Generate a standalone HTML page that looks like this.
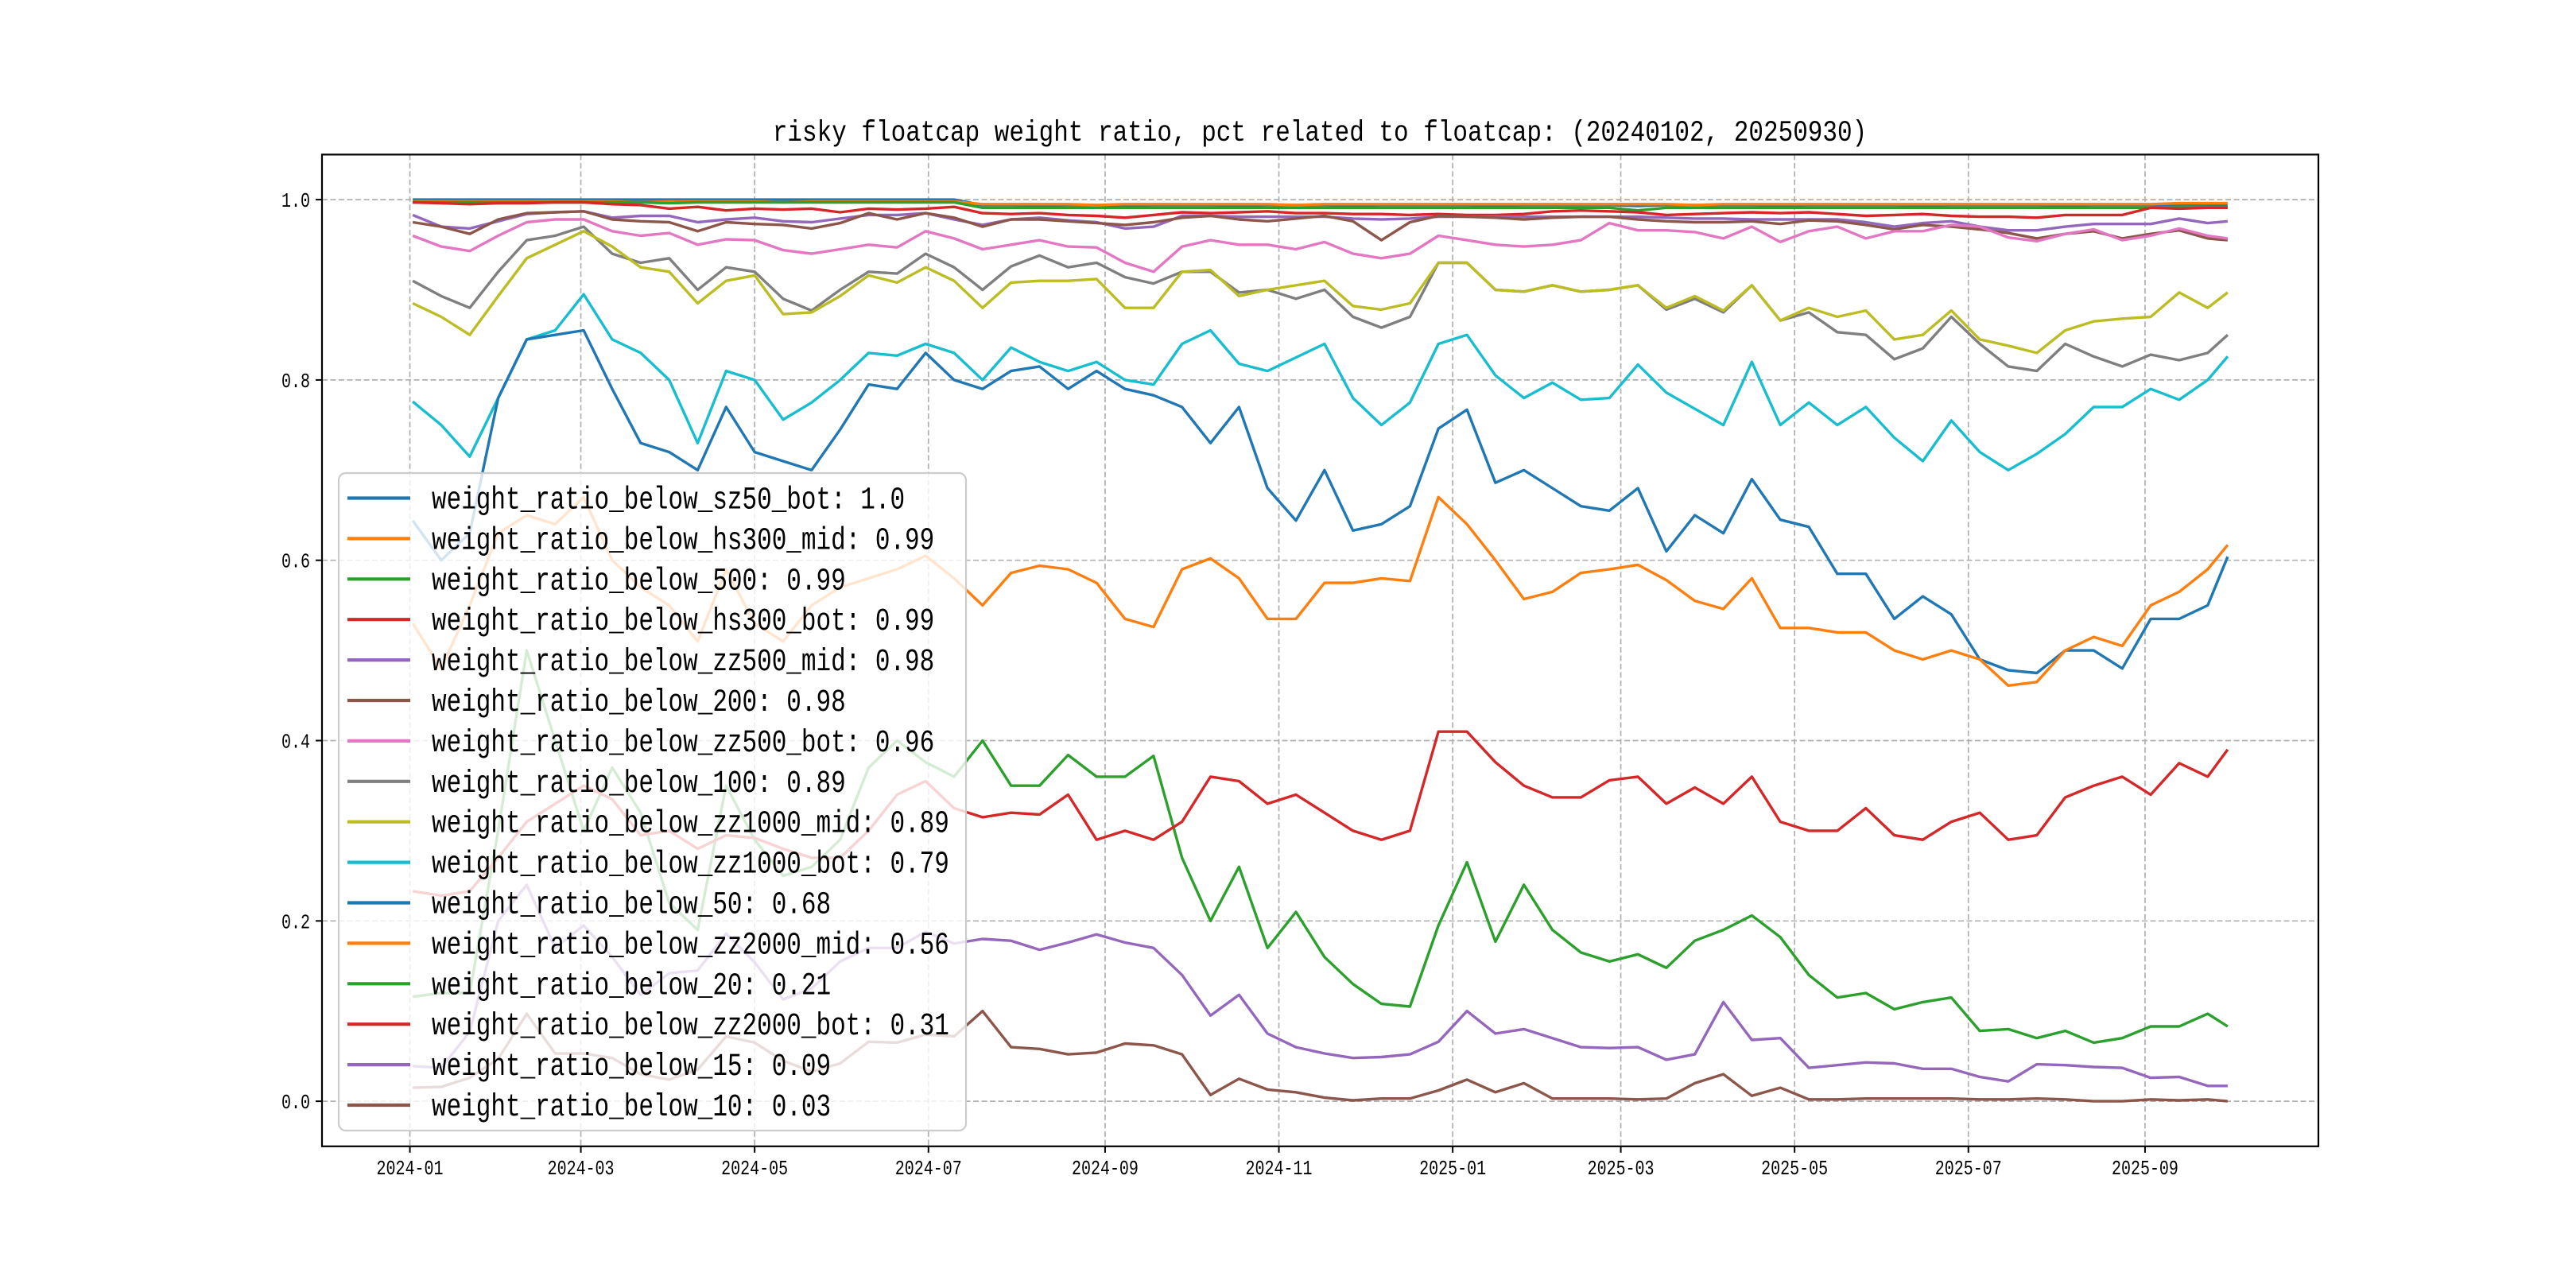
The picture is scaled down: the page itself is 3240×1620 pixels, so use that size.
<!DOCTYPE html>
<html><head><meta charset="utf-8">
<style>
html,body{margin:0;padding:0;background:#fff;}
svg{display:block;}
text{font-family:"Liberation Mono","DejaVu Sans Mono",monospace;fill:#000;}
</style></head>
<body>
<svg id="chart" width="3240" height="1620" viewBox="0 0 3240 1620" xmlns="http://www.w3.org/2000/svg">
<rect width="3240" height="1620" fill="#fff"/>
<text transform="translate(1660,177) scale(1,1.2)" x="0" y="0" font-size="31" text-anchor="middle">risky floatcap weight ratio, pct related to floatcap: (20240102, 20250930)</text>
<g id="grid"></g>
<g id="series"></g>
<rect x="405" y="194.4" width="2511" height="1247.4" fill="none" stroke="#000" stroke-width="2.2"/>
<g id="axes"></g>
<g id="legend"></g>
</svg>
<script>
const dates = [1,11,21,31,41,51,61,71,81,91,101,111,121,131,141,151,161,171,181,191,201,211,221,231,241,251,261,271,281,291,301,311,321,331,341,351,361,371,381,391,401,411,421,431,441,451,461,471,481,491,501,511,521,531,541,551,561,571,581,591,601,611,621,631,638];
const xTickDays = [0,60,121,182,244,305,366,425,486,547,609];
const xTickLabels = ["2024-01","2024-03","2024-05","2024-07","2024-09","2024-11","2025-01","2025-03","2025-05","2025-07","2025-09"];
const yTickValues = [0,0.2,0.4,0.6,0.8,1.0];
const yTickLabels = ["0.0","0.2","0.4","0.6","0.8","1.0"];
const seriesNames = ["weight_ratio_below_sz50_bot: 1.0","weight_ratio_below_hs300_mid: 0.99","weight_ratio_below_500: 0.99","weight_ratio_below_hs300_bot: 0.99","weight_ratio_below_zz500_mid: 0.98","weight_ratio_below_200: 0.98","weight_ratio_below_zz500_bot: 0.96","weight_ratio_below_100: 0.89","weight_ratio_below_zz1000_mid: 0.89","weight_ratio_below_zz1000_bot: 0.79","weight_ratio_below_50: 0.68","weight_ratio_below_zz2000_mid: 0.56","weight_ratio_below_20: 0.21","weight_ratio_below_zz2000_bot: 0.31","weight_ratio_below_15: 0.09","weight_ratio_below_10: 0.03"];
const seriesColors = ["#1f77b4","#ff7f0e","#2ca02c","#d62728","#9467bd","#8c564b","#e377c2","#7f7f7f","#bcbd22","#17becf","#1f77b4","#ff7f0e","#2ca02c","#d62728","#9467bd","#8c564b"];

const sSz50Bot = [1,1,1,1,1,1,1,1,1,1,1,1,1,1,1,1,1,1,1,1,.994,.994,.993,.994,.994,.993,.994,.994,.994,.993,.994,.994,.994,.993,.994,.994,.994,.994,.993,.994,.994,.994,.994,.993,.994,.994,.994,.994,.993,.994,.994,.994,.994,.993,.994,.994,.994,.994,.993,.994,.994,.994,.994,.994,.994];
const sHs300Mid = [.998,.998,.998,.998,.998,.998,.998,.998,.997,.998,.998,.998,.998,.997,.998,.998,.998,.998,.998,.998,.995,.995,.995,.995,.994,.995,.995,.995,.995,.995,.995,.994,.995,.995,.995,.995,.995,.995,.995,.995,.995,.995,.995,.995,.995,.994,.995,.995,.995,.995,.995,.995,.995,.995,.995,.995,.995,.995,.995,.995,.995,.995,.996,.996,.996];
const s500 = [.997,.997,.997,.997,.997,.997,.997,.997,.997,.996,.997,.997,.997,.997,.997,.997,.997,.997,.997,.997,.991,.991,.991,.991,.991,.991,.991,.991,.991,.991,.991,.991,.991,.991,.991,.991,.991,.991,.991,.991,.991,.991,.991,.988,.991,.991,.991,.991,.991,.991,.991,.991,.991,.991,.991,.991,.991,.991,.991,.991,.991,.991,.992,.992,.992];
const sHs300Bot = [.997,.996,.995,.996,.996,.997,.997,.995,.994,.99,.992,.988,.99,.989,.99,.986,.99,.989,.99,.992,.985,.984,.985,.983,.982,.98,.983,.986,.985,.986,.987,.985,.985,.984,.984,.983,.984,.983,.983,.984,.987,.988,.987,.986,.983,.984,.985,.986,.985,.986,.984,.982,.983,.984,.982,.981,.981,.98,.983,.983,.983,.991,.99,.991,.991];
const sZz500Mid = [.983,.97,.968,.976,.984,.986,.987,.98,.982,.982,.975,.978,.98,.976,.975,.979,.983,.983,.985,.978,.972,.978,.98,.977,.975,.968,.97,.982,.982,.981,.981,.981,.981,.979,.978,.979,.981,.981,.981,.981,.981,.981,.981,.981,.98,.979,.979,.978,.978,.978,.978,.975,.97,.974,.976,.97,.966,.966,.97,.973,.973,.973,.979,.974,.976];
const s200 = [.975,.97,.962,.978,.985,.986,.987,.978,.976,.975,.965,.975,.973,.972,.968,.974,.985,.978,.985,.98,.97,.978,.978,.976,.974,.972,.975,.98,.982,.978,.976,.979,.982,.976,.955,.975,.982,.981,.98,.978,.98,.981,.981,.978,.976,.975,.975,.976,.973,.977,.976,.972,.967,.972,.97,.967,.963,.957,.962,.965,.957,.962,.966,.957,.955];
const sZz500Bot = [.96,.948,.943,.96,.975,.978,.978,.965,.96,.963,.95,.956,.955,.944,.94,.945,.95,.947,.965,.957,.945,.95,.955,.948,.947,.93,.92,.948,.955,.95,.95,.945,.953,.94,.935,.94,.96,.955,.95,.948,.95,.955,.974,.966,.966,.964,.957,.97,.953,.965,.97,.957,.965,.965,.972,.97,.958,.954,.962,.967,.955,.96,.968,.96,.957];
const s100 = [.91,.893,.88,.92,.955,.96,.97,.94,.93,.935,.9,.925,.92,.89,.877,.9,.92,.918,.94,.925,.9,.926,.938,.925,.93,.914,.907,.92,.92,.897,.9,.89,.9,.87,.858,.87,.93,.93,.9,.898,.905,.898,.9,.905,.878,.89,.875,.905,.866,.875,.853,.85,.823,.835,.87,.84,.815,.81,.84,.826,.815,.828,.822,.83,.85];
const sZz1000Mid = [.885,.87,.85,.893,.935,.95,.965,.948,.925,.92,.885,.91,.916,.873,.875,.893,.916,.908,.925,.91,.88,.908,.91,.91,.912,.88,.88,.92,.922,.893,.9,.905,.91,.882,.878,.885,.93,.93,.9,.898,.905,.898,.9,.905,.88,.893,.877,.905,.866,.88,.87,.877,.845,.85,.877,.845,.838,.83,.855,.865,.868,.87,.897,.88,.897];
const sZz1000Bot = [.776,.75,.715,.78,.845,.855,.895,.845,.83,.8,.73,.81,.8,.756,.775,.8,.83,.827,.84,.83,.8,.836,.82,.81,.82,.8,.795,.84,.855,.818,.81,.825,.84,.78,.75,.775,.84,.85,.805,.78,.797,.778,.78,.817,.786,.768,.75,.82,.75,.775,.75,.77,.736,.71,.755,.72,.7,.718,.74,.77,.77,.79,.778,.8,.826];
const s50 = [.644,.6,.63,.78,.845,.85,.855,.79,.73,.72,.7,.77,.72,.71,.7,.745,.795,.79,.83,.8,.79,.81,.815,.79,.81,.79,.783,.77,.73,.77,.68,.644,.7,.633,.64,.66,.746,.767,.686,.7,.68,.66,.655,.68,.61,.65,.63,.69,.645,.637,.585,.585,.535,.56,.54,.49,.478,.475,.5,.5,.48,.535,.535,.55,.604];
const sZz2000Mid = [.53,.48,.55,.63,.65,.64,.67,.6,.57,.55,.51,.59,.53,.51,.55,.57,.58,.59,.605,.58,.55,.586,.594,.59,.575,.535,.526,.59,.602,.58,.535,.535,.575,.575,.58,.577,.67,.64,.6,.557,.565,.586,.59,.595,.578,.555,.546,.58,.525,.525,.52,.52,.5,.49,.5,.49,.461,.465,.5,.515,.505,.55,.565,.59,.617];
const s20 = [.116,.12,.12,.3,.5,.4,.3,.37,.32,.22,.19,.35,.29,.25,.26,.29,.37,.4,.376,.36,.4,.35,.35,.384,.36,.36,.383,.27,.2,.26,.17,.21,.16,.13,.108,.105,.195,.265,.177,.24,.19,.165,.155,.163,.148,.178,.19,.206,.182,.14,.115,.12,.102,.11,.115,.078,.08,.07,.078,.065,.07,.083,.083,.097,.083];
const sZz2000Bot = [.233,.228,.233,.27,.31,.33,.35,.335,.295,.3,.28,.295,.292,.28,.27,.27,.3,.34,.355,.325,.315,.32,.318,.34,.29,.3,.29,.31,.36,.355,.33,.34,.32,.3,.29,.3,.41,.41,.376,.35,.337,.337,.356,.36,.33,.348,.33,.36,.31,.3,.3,.325,.295,.29,.31,.32,.29,.295,.337,.35,.36,.34,.375,.36,.39];
const s15 = [.039,.037,.077,.2,.24,.17,.195,.16,.118,.142,.145,.186,.154,.113,.125,.155,.17,.17,.188,.175,.18,.178,.168,.176,.185,.176,.17,.14,.095,.118,.075,.06,.053,.048,.049,.052,.066,.1,.075,.08,.07,.06,.059,.06,.046,.052,.11,.068,.07,.037,.04,.043,.042,.036,.036,.027,.022,.041,.04,.038,.037,.026,.027,.017,.017];
const s10 = [.015,.016,.026,.047,.097,.053,.053,.048,.03,.024,.035,.072,.065,.045,.033,.042,.066,.065,.074,.072,.1,.06,.058,.052,.054,.064,.062,.052,.007,.025,.013,.01,.004,.001,.003,.003,.012,.024,.01,.02,.003,.003,.003,.002,.003,.02,.03,.006,.015,.002,.002,.003,.003,.003,.003,.002,.002,.003,.002,0,0,.002,.001,.002,0];

const allSeries = [sSz50Bot,sHs300Mid,s500,sHs300Bot,sZz500Mid,s200,sZz500Bot,s100,sZz1000Mid,sZz1000Bot,s50,sZz2000Mid,s20,sZz2000Bot,s15,s10];

const PL=405, PR=2916, PT=194.4, PB=1441.8;
const XMIN=-30.85, XMAX=669.85, YMIN=-0.05, YMAX=1.05;
function xPx(d){return PL+(d-XMIN)/(XMAX-XMIN)*(PR-PL);}
function yPx(v){return PB-(v-YMIN)/(YMAX-YMIN)*(PB-PT);}
const NS="http://www.w3.org/2000/svg";
function mk(tag,attrs,parent){const e=document.createElementNS(NS,tag);for(const k in attrs)e.setAttribute(k,attrs[k]);parent.appendChild(e);return e;}

const grid=document.getElementById('grid');
xTickDays.forEach(d=>{
  const l=mk('line',{x1:xPx(d),x2:xPx(d),y1:PT,y2:PB,stroke:'#b0b0b0','stroke-width':1.7,'stroke-dasharray':'7,3.5'},grid);
  
  
});
yTickValues.forEach(v=>{
  const l=mk('line',{x1:PL,x2:PR,y1:yPx(v),y2:yPx(v),stroke:'#b0b0b0','stroke-width':1.7,'stroke-dasharray':'7,3.5'},grid);
  
  
});

const sg=document.getElementById('series');
allSeries.forEach((vals,i)=>{
  const pts=vals.map((v,j)=>xPx(dates[j]).toFixed(1)+','+yPx(v).toFixed(1)).join(' ');
  const p=mk('polyline',{points:pts,fill:'none',stroke:seriesColors[i],'stroke-width':3.4,'stroke-linejoin':'round'},sg);
  
  
});

const ax=document.getElementById('axes');
xTickDays.forEach((d,i)=>{
  const t=mk('line',{x1:xPx(d),x2:xPx(d),y1:PB,y2:PB+8,stroke:'#000','stroke-width':2},ax);
  
  
  const tx=mk('text',{transform:'translate('+xPx(d)+','+(PB+35)+') scale(1,1.3)',x:0,y:0,'font-size':20,'text-anchor':'middle'},ax);
  tx.textContent=xTickLabels[i];
  
  
});
yTickValues.forEach((v,i)=>{
  const t=mk('line',{x1:PL-8,x2:PL,y1:yPx(v),y2:yPx(v),stroke:'#000','stroke-width':2},ax);
  
  
  const tx=mk('text',{transform:'translate('+(PL-15)+','+(yPx(v)+9)+') scale(1,1.3)',x:0,y:0,'font-size':20,'text-anchor':'end'},ax);
  tx.textContent=yTickLabels[i];
  
  
});

const lg=document.getElementById('legend');
const box=mk('rect',{x:426,y:595,width:789,height:827,rx:9,ry:9,fill:'#fff','fill-opacity':0.8,stroke:'#cccccc','stroke-width':2.2},lg);


seriesNames.forEach((n,i)=>{
  const y=626.5+50.9*i;
  const l=mk('line',{x1:437,x2:516,y1:y,y2:y,stroke:seriesColors[i],'stroke-width':4.2},lg);
  
  
  const t=mk('text',{transform:'translate(543,'+(y+13)+') scale(1,1.3)',x:0,y:0,'font-size':31},lg);
  t.textContent=n;
  
  
});
</script>
</body></html>
